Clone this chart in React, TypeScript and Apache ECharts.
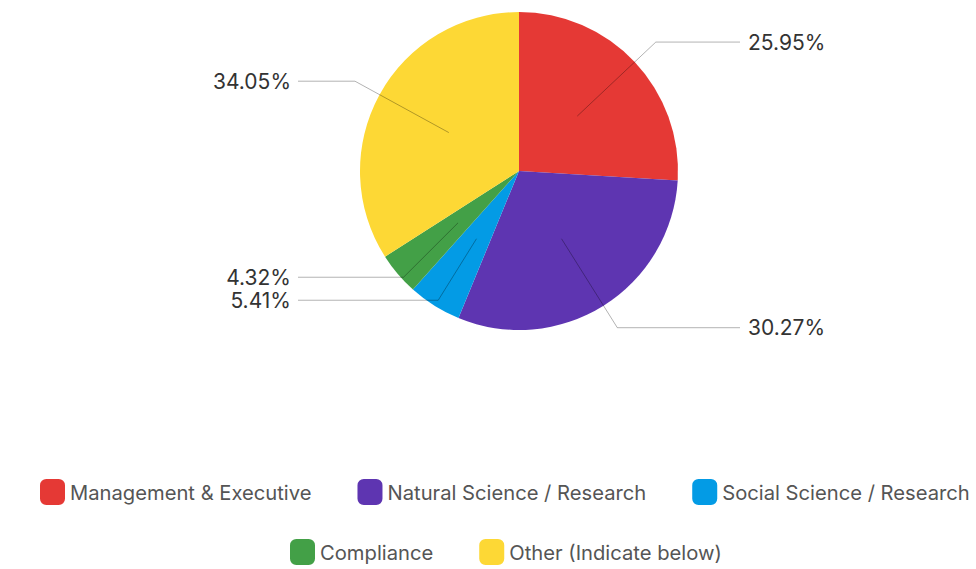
import React, { useEffect, useRef } from "react";
import * as echarts from "echarts";

const categories = [
  "Management & Executive",
  "Natural Science / Research",
  "Social Science / Research",
  "Compliance",
  "Other (Indicate below)",
];
const counts = [48, 56, 10, 8, 63];
const colors = ["#E53935", "#5E35B1", "#039BE5", "#43A047", "#FDD835"];

const legendRow1 = categories.slice(0, 3);
const legendRow2 = categories.slice(3);

const CX = 519;
const CY = 171;
const R = 159;
const INNER_R = 80;
const LINE_REACH = 221;
const LINE_LEN = [108, 105, 72, 84, 107];
const FONT = "Inter, 'Open Sans', sans-serif";

export default function App() {
  const ref = useRef<HTMLDivElement>(null);
  useEffect(() => {
    if (!ref.current) return;
    const chart = echarts.init(ref.current, null, { renderer: "svg" });
    const baseData = categories.map((name, i) => ({
      name,
      value: counts[i],
      itemStyle: { color: colors[i] },
    }));
    const legendCommon = {
      orient: "horizontal" as const,
      icon: "roundRect",
      itemWidth: 25,
      itemHeight: 26,
      itemGap: 46,
      padding: 0,
      selectedMode: false,
      textStyle: { fontFamily: FONT, fontSize: 20.2, color: "#555" },
    };
    chart.setOption({
      animation: false,
      backgroundColor: "#fff",
      legend: [
        { ...legendCommon, data: legendRow1, left: 40, top: 479, width: 960 },
        { ...legendCommon, data: legendRow2, left: 290, top: 539, width: 600 },
      ],
      series: [
        {
          type: "pie",
          z: 1,
          center: [CX, CY],
          radius: R,
          startAngle: 90,
          clockwise: true,
          label: { show: false },
          labelLine: { show: false },
          emphasis: { disabled: true },
          data: baseData,
        },
        {
          type: "pie",
          z: 5,
          center: [CX, CY],
          radius: INNER_R,
          startAngle: 90,
          clockwise: true,
          silent: true,
          percentPrecision: 2,
          minShowLabelAngle: 0,
          itemStyle: { color: "rgba(0,0,0,0)" },
          emphasis: { disabled: true },
          label: {
            show: true,
            formatter: "{d}%",
            fontFamily: FONT,
            fontSize: 21,
            color: "#333",
          },
          labelLine: {
            show: true,
            length: 107,
            length2: 40,
            lineStyle: { color: "rgba(0,0,0,0.3)", width: 1 },
          },
          labelLayout: (p: any) => {
            const pts = p.labelLinePoints;
            if (!pts) return {};
            const isLeft = pts[2][0] < CX;
            const endX = isLeft ? CX - LINE_REACH : CX + LINE_REACH;
            return {
              labelLinePoints: [pts[0], pts[1], [endX, pts[1][1]]],
              x: isLeft ? endX - 7 : endX + 8,
              y: pts[1][1],
              align: isLeft ? "right" : "left",
              verticalAlign: "middle",
            };
          },
          data: baseData.map((d, i) => ({
            name: d.name,
            value: d.value,
            labelLine: { length: LINE_LEN[i] },
          })),
        },
      ],
    });
    return () => chart.dispose();
  }, []);
  return (
    <div
      ref={ref}
      style={{ position: "fixed", left: 0, top: 0, width: 976, height: 569 }}
    />
  );
}
